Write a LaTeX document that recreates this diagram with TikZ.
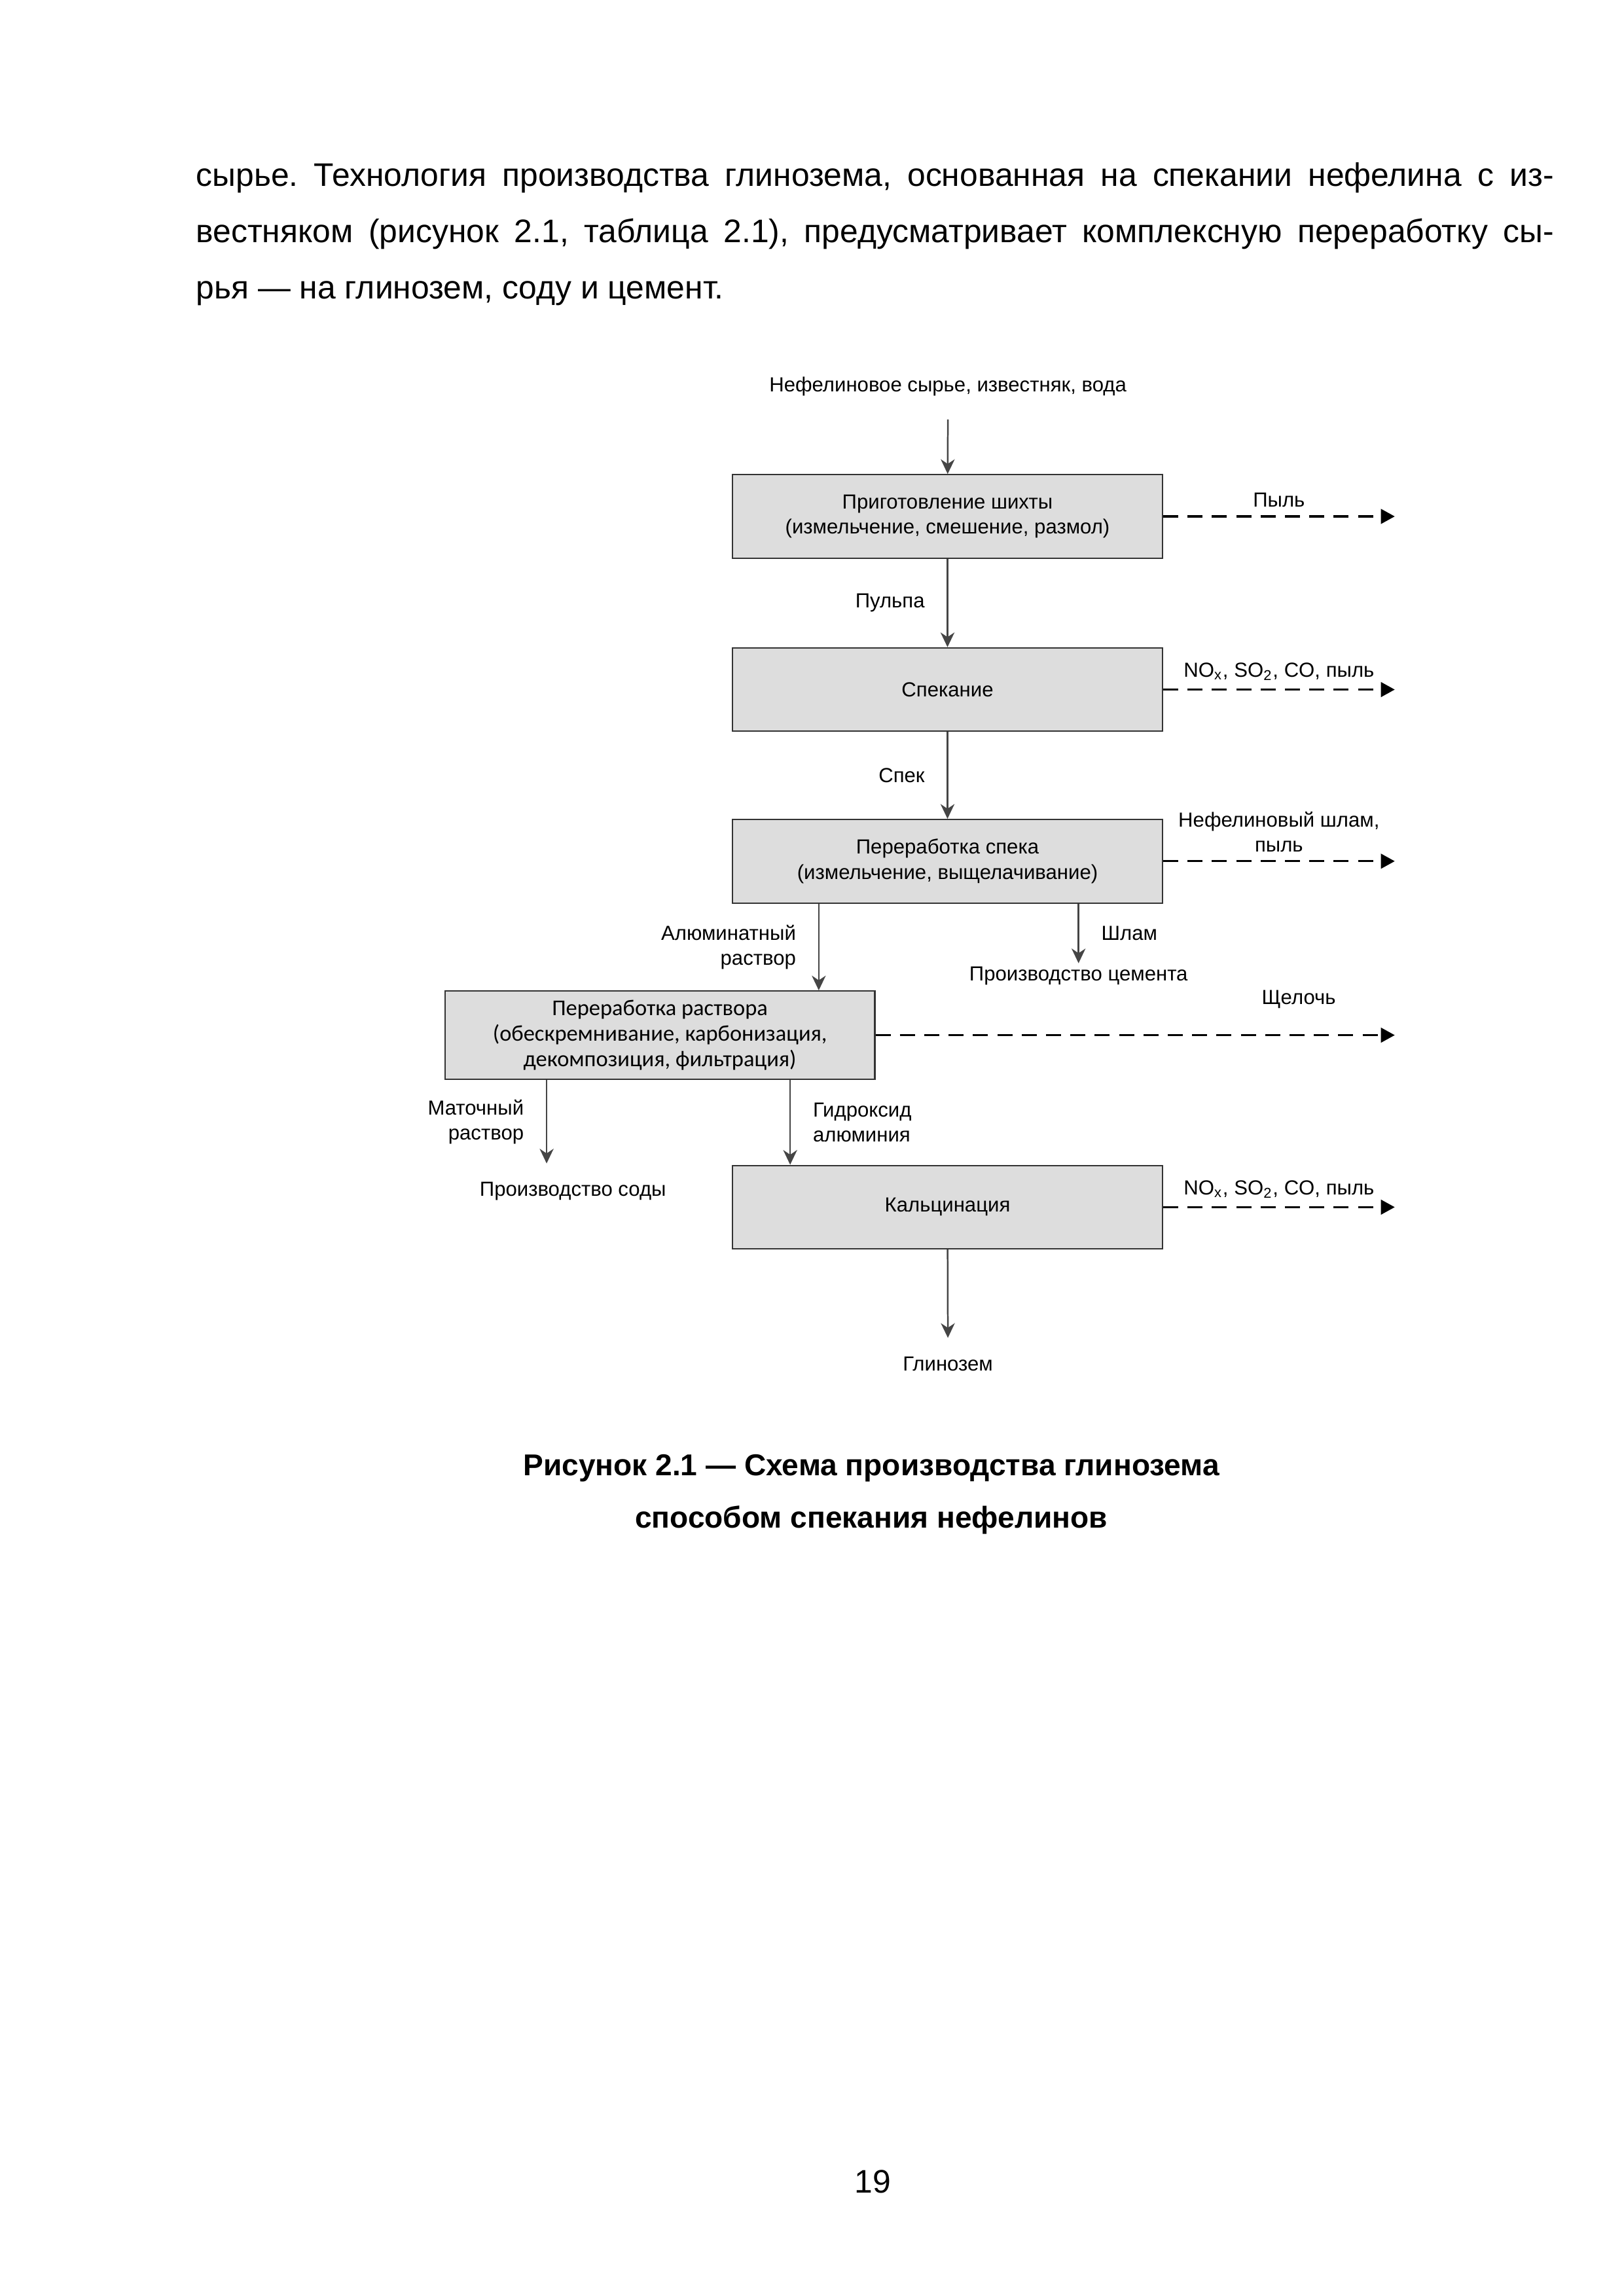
\documentclass[tikz,border=0pt]{standalone}
\usepackage{fontspec}
\setmainfont{Liberation Sans}
\newfontfamily\calfont{Carlito}
\usetikzlibrary{arrows.meta}

\definecolor{boxfill}{HTML}{DDDDDD}
\definecolor{boxline}{HTML}{333333}
\definecolor{flowline}{HTML}{454545}

\tikzset{
    stage/.style={draw=boxline, fill=boxfill, line width=0.5pt, minimum width=5.56cm,
        minimum height=1.08cm, align=center, font=\fontsize{7.5}{9.2}\selectfont},
    lbl/.style={font=\fontsize{7.5}{9.2}\selectfont, inner sep=1pt},
    flow/.style={draw=flowline, line width=0.6pt,
        -{Stealth[length=1.9mm, width=1.8mm, inset=0.6mm]}},
    waste/.style={draw=black, line width=0.8pt, dash pattern=on 1.95mm off 1.2mm,
        -{Triangle[length=1.8mm, width=1.9mm]}}
}

\begin{document}
\begin{tikzpicture}
    \useasboundingbox (0,0) rectangle (21,-29.7);

    % text of the page
    \node [anchor=north west, inner sep=0, text width=17.56cm, align=justify,
        font=\frenchspacing\fontsize{12}{20.7}\selectfont] (para) at (2.53,-2.1)
        {сырье. Технология производства глинозема, основанная на спекании нефелина с из-\linebreak
         вестняком (рисунок 2.1, таблица 2.1), предусматривает комплексную переработку сы-\linebreak
         рья~— на глинозем, соду и цемент.};

    \begin{scope}[shift={(-0.04,0.04)}]
    % stages
    \begin{scope}[every node/.style={stage}]
        \node (prep) at (12.295,-6.72) {Приготовление шихты\\(измельчение, смешение, размол)};
        \node (sint) at (12.295,-8.96) {Спекание};
        \node (proc) at (12.295,-11.18) {Переработка спека\\(измельчение, выщелачивание)};
        \node [font=\calfont\fontsize{8.3}{9.4}\selectfont, minimum height=1.1cm] (sol) at (8.575,-13.43)
            {Переработка раствора\\(обескремнивание, карбонизация,\\декомпозиция, фильтрация)};
        \node (calc) at (12.295,-15.655) {Кальцинация};
    \end{scope}

    % inputs and products
    \begin{scope}[every node/.style={lbl}]
        \node (raw) at (12.3,-5.04) {Нефелиновое сырье, известняк, вода};
        \node (cement) at (13.99,-12.66) {Производство цемента};
        \node (soda) at (7.45,-15.45) {Производство соды};
        \node (alumina) at (12.3,-17.68) {Глинозем};
    \end{scope}
    \coordinate (aluX) at (10.63,0);
    \coordinate (slimeX) at (13.99,0);
    \coordinate (motherX) at (7.11,0);
    \coordinate (hydrX) at (10.26,0);
    \coordinate (outX) at (18.08,0);

    % main flow
    \begin{scope}[every node/.style={lbl}]
        \draw [flow] ([yshift=-0.26cm]raw.south) -- (prep);
        \draw [flow] (prep) -- node[midway, left=0.25cm] {Пульпа} (sint);
        \draw [flow] (sint) -- node[midway, left=0.25cm] {Спек} (proc);
        \draw [flow] (proc.south -| aluX) -- node[midway, left=0.25cm, align=right]
            {Алюминатный\\раствор} (sol.north -| aluX);
        \draw [flow] (proc.south -| slimeX) -- node[midway, right=0.25cm] {Шлам} (cement);
        \draw [flow] (sol.south -| motherX) -- node[midway, left=0.25cm, align=right]
            {Маточный\\раствор} ([yshift=0.2cm]soda.north -| motherX);
        \draw [flow] (sol.south -| hydrX) -- node[midway, right=0.25cm, align=left]
            {Гидроксид\\алюминия} (calc.north -| hydrX);
        \draw [flow] (calc) -- ([yshift=0.2cm]alumina.north);
    \end{scope}

    % wastes
    \begin{scope}[every node/.style={lbl}]
        \draw [waste] (prep.east) -- node[midway, above=0.07cm] {Пыль} (prep.east -| outX);
        \draw [waste] (sint.east) -- node[midway, above=0.07cm]
            {NO\textsubscript{x}, SO\textsubscript{2}, CO, пыль} (sint.east -| outX);
        \draw [waste] (proc.east) -- node[midway, above=0.07cm, align=center]
            {Нефелиновый шлам,\\пыль} (proc.east -| outX);
        \draw [waste] (sol.east) -- node[pos=0.815, above=0.3cm] {Щелочь} (sol.east -| outX);
        \draw [waste] (calc.east) -- node[midway, above=0.07cm]
            {NO\textsubscript{x}, SO\textsubscript{2}, CO, пыль} (calc.east -| outX);
    \end{scope}
    \end{scope}

    % caption and page number
    \node [align=center, font=\bfseries\fontsize{11.1}{19.4}\selectfont] (cap) at (11.27,-19.33)
        {Рисунок 2.1~— Схема производства глинозема\\способом спекания нефелинов};
    \node [font=\fontsize{12}{14}\selectfont] (page) at (11.29,-28.22) {19};
\end{tikzpicture}
\end{document}
